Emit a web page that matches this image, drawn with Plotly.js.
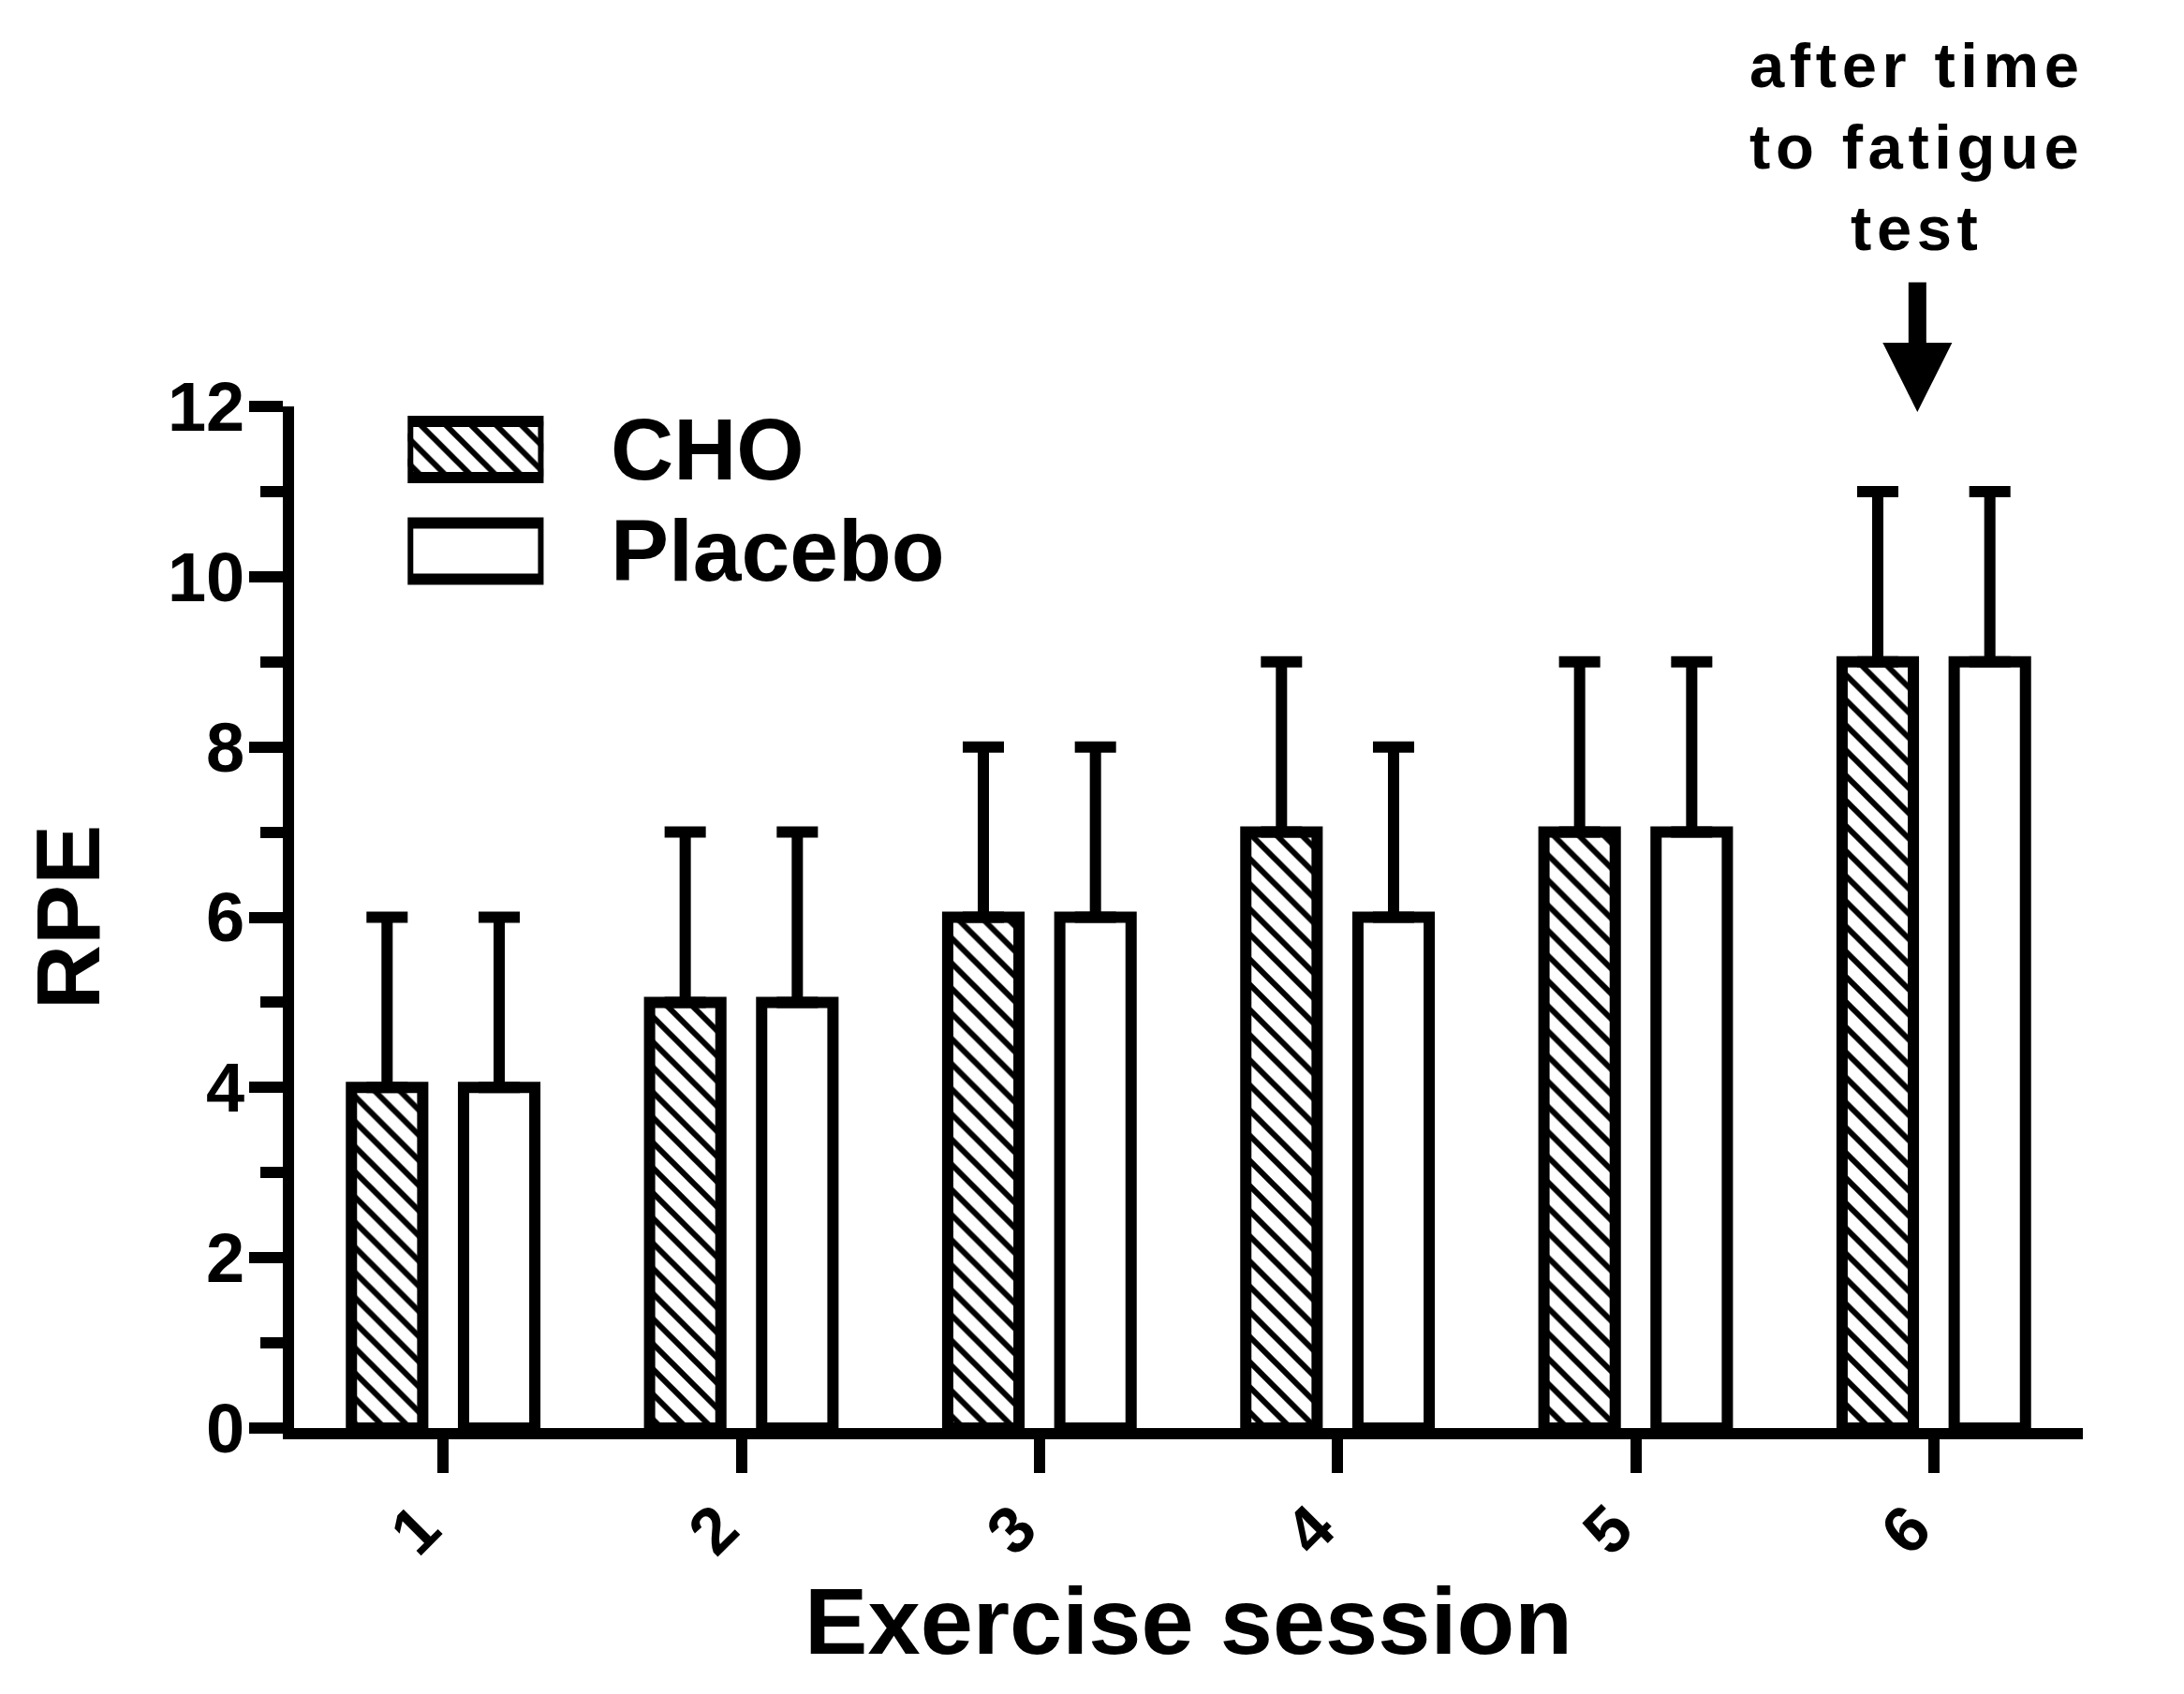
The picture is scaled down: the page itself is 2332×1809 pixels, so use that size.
<!DOCTYPE html>
<html>
<head>
<meta charset="utf-8">
<script src="https://cdn.plot.ly/plotly-3.0.1.min.js"></script>
<style>
  body { margin: 0; background: #fff; }
  #rpe { width: 2332px; height: 1809px; }
</style>
</head>
<body>
<div id="rpe"></div>
<script>
// RPE per exercise session, mean and upper SD
const sessions = ['1', '2', '3', '4', '5', '6'];
const choMean = [4, 5, 6, 7, 7, 9];
const choSd = [2, 2, 2, 2, 2, 2];
const placeboMean = [4, 5, 6, 6, 7, 9];
const placeboSd = [2, 2, 2, 2, 2, 2];
const noLower = [0, 0, 0, 0, 0, 0];
const yTicks = [0, 2, 4, 6, 8, 10, 12];

// legend swatches (drawn on a small hidden subplot)
const legendNames = ['Placebo', 'CHO'];
const legendShapes = ['', '\\'];

const FONT = 'Liberation Sans, Arial, sans-serif';

// the original lettering is spaced out a little
const spaced = s => s.split('').join('\u200A');

const choTrace = {
    x: sessions,
    y: choMean,
    type: 'bar',
    name: 'CHO',
    marker: {
        color: 'white',
        line: {color: 'black', width: 12},
        pattern: {shape: '\\', fgcolor: 'black', bgcolor: 'white', size: 19, solidity: 0.32}
    },
    error_y: {type: 'data', array: choSd, arrayminus: noLower, symmetric: false,
              color: 'black', thickness: 12, width: 22},
    showlegend: false
};

const placeboTrace = {
    x: sessions,
    y: placeboMean,
    type: 'bar',
    name: 'Placebo',
    marker: {color: 'white', line: {color: 'black', width: 12}},
    error_y: {type: 'data', array: placeboSd, arrayminus: noLower, symmetric: false,
              color: 'black', thickness: 12, width: 22},
    showlegend: false
};

const legendTrace = {
    x: legendNames.map(() => 1),
    y: legendNames,
    type: 'bar',
    orientation: 'h',
    width: 0.553,
    xaxis: 'x2',
    yaxis: 'y2',
    marker: {
        color: 'white',
        line: {color: 'black', width: 12},
        pattern: {shape: legendShapes, fgcolor: 'black', bgcolor: 'white', size: 19, solidity: 0.32}
    },
    hoverinfo: 'skip',
    showlegend: false
};

const layout = {
    width: 2332,
    height: 1809,
    margin: {l: 314, r: 108, t: 434, b: 284},
    paper_bgcolor: 'white',
    plot_bgcolor: 'white',
    font: {family: FONT, color: 'black', weight: 'bold'},
    barmode: 'group',
    bargap: 0.248,
    bargroupgap: 0.364,
    xaxis: {
        type: 'category',
        range: [-0.5, 5.5],
        showline: true, linecolor: 'black', linewidth: 12,
        ticks: 'outside', ticklen: 36, tickwidth: 12, tickcolor: 'black',
        tickangle: -45,
        ticklabelshift: -24,
        ticklabelstandoff: -10,
        tickfont: {family: FONT, size: 70, weight: 'bold'},
        showgrid: false, zeroline: false,
        title: {text: 'Exercise session', font: {family: FONT, size: 101, weight: 'bold'}, standoff: 20}
    },
    yaxis: {
        range: [0, 12],
        tickvals: yTicks,
        showline: true, linecolor: 'black', linewidth: 12,
        ticks: 'outside', ticklen: 36, tickwidth: 12, tickcolor: 'black',
        minor: {dtick: 1, ticks: 'outside', ticklen: 24, tickwidth: 12, tickcolor: 'black', showgrid: false},
        ticklabelstandoff: -10,
        tickfont: {family: FONT, size: 74, weight: 'bold'},
        showgrid: false, zeroline: false,
        title: {text: 'RPE', font: {family: FONT, size: 96, weight: 'bold'}, standoff: 45}
    },
    xaxis2: {domain: [0.0635, 0.1395], range: [0, 1], anchor: 'y2', visible: false, fixedrange: true},
    yaxis2: {domain: [0.8112, 0.9945], range: [-0.4747, 1.3687], anchor: 'x2', type: 'category',
             visible: false, fixedrange: true},
    annotations: [
        {text: 'CHO', xref: 'paper', yref: 'paper', x: 0.176, y: 0.958,
         xanchor: 'left', yanchor: 'middle', showarrow: false,
         font: {family: FONT, size: 93, weight: 'bold'}},
        {text: 'Placebo', xref: 'paper', yref: 'paper', x: 0.176, y: 0.859,
         xanchor: 'left', yanchor: 'middle', showarrow: false,
         font: {family: FONT, size: 93, weight: 'bold'}},
        {text: [spaced('after time'), spaced('to fatigue'), spaced('test')].join('<br>'),
         xref: 'x', yref: 'paper', x: 4.935, y: 1.37,
         xanchor: 'center', yanchor: 'top', showarrow: false, align: 'center',
         font: {family: FONT, size: 67, weight: 'bold'}},
        {text: '', xref: 'x', yref: 'paper', x: 4.945, y: 0.9945,
         showarrow: true, arrowhead: 2, arrowsize: 0.78, arrowwidth: 19, arrowcolor: 'black',
         ax: 0, ay: -140, standoff: 0}
    ]
};

Plotly.newPlot('rpe', [choTrace, placeboTrace, legendTrace], layout, {staticPlot: true});
</script>
</body>
</html>
